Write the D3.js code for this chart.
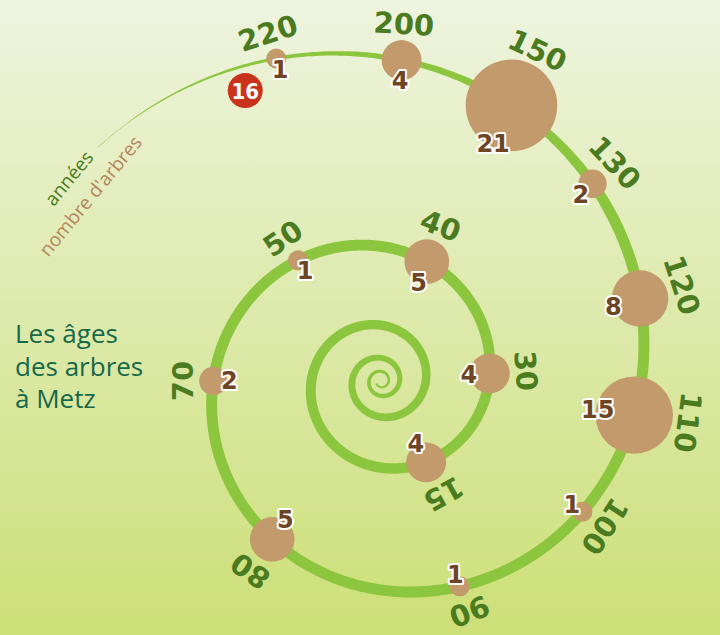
<!DOCTYPE html>
<html>
<head>
<meta charset="utf-8">
<script src="https://cdn.jsdelivr.net/npm/d3@7"></script>
<style>
  body { margin: 0; }
  svg { display: block; }
</style>
</head>
<body>
<svg id="chart" width="720" height="635"></svg>
<script>
// age (years) placed along the spiral, and how many trees have that age
const ages = [15, 30, 40, 50, 70, 80, 90, 100, 110, 120, 130, 150, 200, 220]
const counts = [4, 4, 5, 1, 2, 5, 1, 1, 15, 8, 2, 21, 4, 1]
const titleLines = ['Les âges', 'des arbres', 'à Metz']
const legendLabels = ['années', "nombre d'arbres"]
const badgeLabel = '16'

const width = 720, height = 635
const center = [381, 381]

const colors = {
  spiral: '#8cc63e',
  bubble: '#c39a6b',
  count: '#6e4524',
  age: '#4b7b20',
  title: '#15684a',
  trees: '#b48659',
  badge: '#c9331c'
}

// logarithmic spiral : r = r0 * e^(k * turns), angle in degrees, counter clockwise
const r0 = 108, k = 0.88
const spiralR = a => r0 * Math.exp(k * a / 360)
const toXY = a => {
  let t = -a * Math.PI / 180, r = spiralR(a)
  return [center[0] + r * Math.cos(t), center[1] + r * Math.sin(t)]
}

// category index -> angle on the spiral (inner turns are spaced wider than the outer ones)
const turn = d3.scaleLinear()
  .domain([0, 2, 6, 7, 10, ages.length - 1])
  .range([-61, 69, 291, 327, 403, 468])
const size = d3.scaleSqrt().domain([0, d3.max(counts)]).range([0, 45.8])

const aStart = -1230, aEnd = 500.5, taperFrom = 395
const strokeW = a => {
  let w = 11 * (1 - Math.exp(-spiralR(a) / 30))
  if (a > taperFrom) w *= Math.max(0.04, (aEnd - a) / (aEnd - taperFrom))
  return w
}

const svg = d3.select('#chart')

/** background **/
let grad = svg.append('defs').append('linearGradient')
  .attr('id', 'bg').attr('x1', 0).attr('y1', 0).attr('x2', 0).attr('y2', 1)
grad.append('stop').attr('offset', 0).attr('stop-color', '#eef4df')
grad.append('stop').attr('offset', 1).attr('stop-color', '#cddf77')
svg.append('rect').attr('width', width).attr('height', height).attr('fill', 'url(#bg)')

/** spiral band with variable width **/
const n = 3000
let left = [], right = []
d3.range(n + 1).forEach(i => {
  let a = aStart + (aEnd - aStart) * i / n
  let p = toXY(a), q0 = toXY(a - 0.3), q1 = toXY(a + 0.3)
  let dx = q1[0] - q0[0], dy = q1[1] - q0[1], len = Math.hypot(dx, dy)
  let nx = -dy / len, ny = dx / len, h = strokeW(a) / 2
  left.push([p[0] + nx * h, p[1] + ny * h])
  right.push([p[0] - nx * h, p[1] - ny * h])
})
svg.append('path')
  .attr('d', d3.line()(left.concat(right.reverse())) + 'Z')
  .attr('fill', colors.spiral)

/** bubbles and labels **/
const points = ages.map((age, i) => {
  let a = turn(i), p = toXY(a), r = size(counts[i])
  let ux = (center[0] - p[0]) / spiralR(a), uy = (center[1] - p[1]) / spiralR(a) // unit vector to the center
  return { age, count: counts[i], a, x: p[0], y: p[1], r, ux, uy }
})

svg.append('g').selectAll('circle')
  .data(points).enter()
  .append('circle')
    .attr('cx', d => d.x).attr('cy', d => d.y).attr('r', d => d.r)
    .attr('fill', colors.bubble)

// ages : outside the spiral, rotated along it
svg.append('g').selectAll('text')
  .data(points).enter()
  .append('text')
    .attr('transform', d => {
      let off = 17 + 0.95 * d.r
      return `translate(${d.x - d.ux * off}, ${d.y - d.uy * off}) rotate(${90 - d.a})`
    })
    .attr('text-anchor', 'middle')
    .attr('dominant-baseline', 'central')
    .style('font-family', '"DejaVu Sans", sans-serif')
    .style('font-weight', 'bold')
    .style('font-size', '29px')
    .attr('fill', colors.age)
    .text(d => d.age)

// tree counts : inside, with a white outline
svg.append('g').selectAll('text')
  .data(points).enter()
  .append('text')
    .attr('x', d => d.x + d.ux * (4 + 0.85 * d.r))
    .attr('y', d => d.y + d.uy * (4 + 0.85 * d.r))
    .attr('text-anchor', 'middle')
    .attr('dominant-baseline', 'central')
    .style('font-family', '"DejaVu Sans", sans-serif')
    .style('font-weight', 'bold')
    .style('font-size', '24px')
    .attr('fill', colors.count)
    .attr('stroke', '#fff').attr('stroke-width', 4).attr('stroke-linejoin', 'round')
    .attr('paint-order', 'stroke')
    .text(d => d.count)

/** legend at the tail of the spiral **/
let tail = toXY(aEnd)
let legend = svg.append('g')
  .attr('transform', `translate(${tail[0]}, ${tail[1]}) rotate(${90 - aEnd})`)
  .style('font-family', '"Open Sans", sans-serif')
  .style('font-size', '19px')
  .attr('text-anchor', 'middle')
legend.selectAll('text')
  .data(legendLabels).enter()
  .append('text')
    .attr('x', -42)
    .attr('y', (d, i) => 4 + i * 28)
    .attr('fill', (d, i) => i ? colors.trees : colors.age)
    .text(d => d)

/** badge next to the oldest tree **/
let last = points[points.length - 1]
let badge = svg.append('g').attr('transform', `translate(${last.x - 31}, ${last.y + 32})`)
badge.append('circle').attr('r', 17.5).attr('fill', colors.badge)
badge.append('text')
  .attr('text-anchor', 'middle').attr('dominant-baseline', 'central').attr('y', 1)
  .style('font-family', '"Liberation Sans Narrow", "DejaVu Sans Condensed", sans-serif')
  .style('font-weight', 'bold').style('font-size', '22px')
  .attr('fill', '#fff')
  .text(badgeLabel)

/** title **/
svg.append('text')
  .style('font-family', '"Open Sans", sans-serif')
  .style('font-size', '26px')
  .attr('fill', colors.title)
  .selectAll('tspan')
  .data(titleLines).enter()
  .append('tspan')
    .attr('x', 15)
    .attr('y', (d, i) => 343 + i * 32.5)
    .text(d => d)
</script>
</body>
</html>
